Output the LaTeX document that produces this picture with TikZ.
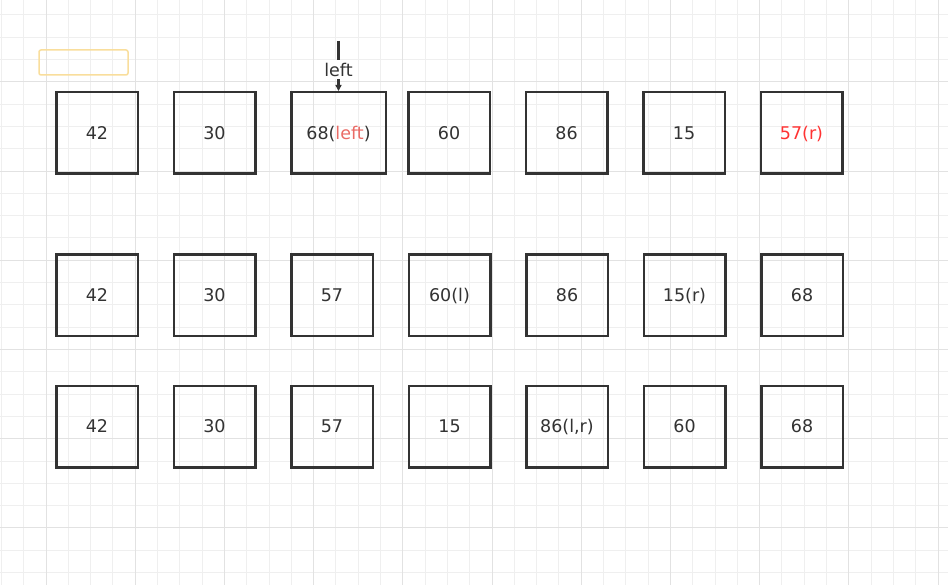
\documentclass[tikz,border=0pt]{standalone}
\usepackage{fontspec}
\setmainfont{DejaVu Sans}
\usetikzlibrary{positioning,arrows.meta}

\definecolor{boxline}{HTML}{333333}
\definecolor{gridminor}{HTML}{EFEFEF}
\definecolor{gridmajor}{HTML}{E2E2E2}
\definecolor{leftred}{HTML}{EA6B66}
\definecolor{rightred}{HTML}{FF3333}
\definecolor{notebox}{HTML}{F9DE9C}

\begin{document}
\begin{tikzpicture}[
    x=1pt, y=-1pt,
    node distance=33.5pt,
    cell/.style={draw=boxline, line width=2.5pt, minimum width=81.5pt, minimum height=81.5pt,
                 inner sep=0pt, text height=14pt, text depth=1.5pt, text=boxline,
                 font=\fontsize{17.5}{20}\selectfont},
    note/.style={draw=notebox, line width=1.5pt, rounded corners=2pt,
                 minimum width=89pt, minimum height=25pt},
    pointer/.style={draw=boxline, line width=2.5pt, -{Triangle[width=6pt,length=6pt]}},
    minor/.style={draw=gridminor, line width=1pt},
    major/.style={draw=gridmajor, line width=1pt}
]
    \useasboundingbox[fill=white] (0,0) rectangle (948,585);

    % background grid
    \foreach \k in {0,...,42} \draw[minor] (1.4+22.3*\k,0) -- (1.4+22.3*\k,585);
    \foreach \k in {0,...,25} \draw[minor] (0,15+22.3*\k) -- (948,15+22.3*\k);
    \foreach \k in {0,...,10} \draw[major] (46+89.2*\k,0) -- (46+89.2*\k,585);
    \foreach \k in {0,...,5}  \draw[major] (0,81.9+89.2*\k) -- (948,81.9+89.2*\k);

    \node[note] (hint) at (83.5,62.5) {};

    % first row
    \node[cell] (a1) at (97,133) {42};
    \node[cell] (a2) [right=of a1] {30};
    \node[cell, minimum width=94.5pt] (a3) [right=of a2] {68(\textcolor{leftred}{left})};
    \node[cell] (a4) [right=20pt of a3] {60};
    \node[cell] (a5) [right=of a4] {86};
    \node[cell] (a6) [right=of a5] {15};
    \node[cell, text=rightred] (a7) [right=of a6] {57(r)};

    % second row
    \node[cell] (b1) at (97,295.5) {42};
    \node[cell] (b2) [right=of b1] {30};
    \node[cell] (b3) [right=of b2] {57};
    \node[cell] (b4) [right=of b3] {60(l)};
    \node[cell] (b5) [right=of b4] {86};
    \node[cell] (b6) [right=of b5] {15(r)};
    \node[cell] (b7) [right=of b6] {68};

    % third row
    \node[cell] (c1) at (97,426.5) {42};
    \node[cell] (c2) [right=of c1] {30};
    \node[cell] (c3) [right=of c2] {57};
    \node[cell] (c4) [right=of c3] {15};
    \node[cell] (c5) [right=of c4] {86(l,r)};
    \node[cell] (c6) [right=of c5] {60};
    \node[cell] (c7) [right=of c6] {68};

    % pointer
    \coordinate (ptr) at ([yshift=50pt]a3.north);
    \draw[pointer] (ptr) -- node[pos=0.57, fill=white, inner sep=2.5pt, text=boxline,
        font=\fontsize{17.5}{20}\selectfont] (lbl) {left} (a3.north);
\end{tikzpicture}
\end{document}
